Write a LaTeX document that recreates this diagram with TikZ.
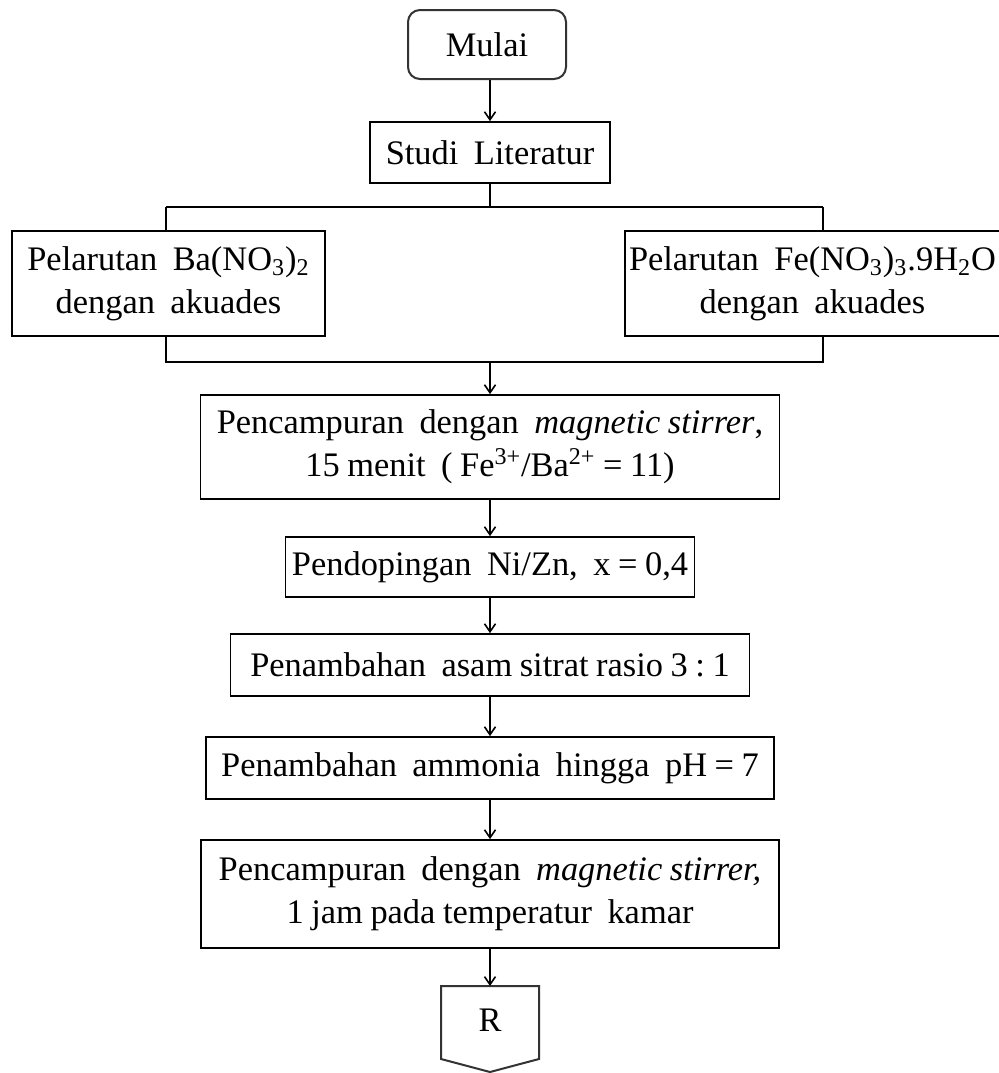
\documentclass[tikz,border=0pt]{standalone}
\usepackage{fontspec}
\setmainfont{Liberation Serif}[WordSpace=1.8]
\usetikzlibrary{arrows.meta}
% a plain, narrow word space
\newcommand{\nsp}{\hspace{0.22em}}

\begin{document}
\begin{tikzpicture}[x=0.5pt, y=-0.5pt,
  every node/.style={font=\fontsize{17.2}{21.5}\selectfont, align=center, inner sep=0pt},
  procbox/.style={draw, line width=0.85pt},
  startbox/.style={draw=black!80, line width=1pt, rounded corners=6pt},
  link/.style={line width=0.85pt},
  arr/.style={line width=0.85pt, -{Straight Barb[length=4pt, width=5.5pt, line width=0.8pt]}}]

\useasboundingbox (0,0) rectangle (998,1073);

% start
\node[startbox, minimum width=79pt, minimum height=34.5pt] (mulai) at (487,44.5) {Mulai};

% literature study
\node[procbox, minimum width=120pt, minimum height=30.5pt] (lit) at (490,152.5) {Studi Literatur};

% the two dissolving steps
\node[procbox, minimum width=156.5pt, minimum height=52.5pt] (ba) at (168.5,283.5)
  {Pelarutan Ba(NO\textsubscript{3})\textsubscript{2}\\dengan akuades};
\node[procbox, minimum width=187.5pt, minimum height=52.5pt] (fe) at (812.5,283.5)
  {Pelarutan Fe(NO\textsubscript{3})\textsubscript{3}.9H\textsubscript{2}O\\dengan akuades};

% main sequence
\node[procbox, minimum width=289.5pt, minimum height=52pt] (mix1) at (490,447)
  {Pencampuran\ dengan \textit{magnetic\nsp stirrer},\\15\nsp menit\ (\nsp Fe\textsuperscript{3+}/Ba\textsuperscript{2+}\nsp=\nsp11)};
\node[procbox, minimum width=204.5pt, minimum height=30pt] (dop) at (490,567)
  {Pendopingan\ Ni/Zn,\ x\nsp=\nsp0,4};
\node[procbox, minimum width=259.5pt, minimum height=31pt] (asam) at (490,665)
  {Penambahan\ asam\nsp sitrat\nsp rasio\nsp 3\nsp:\nsp1};
\node[procbox, minimum width=284pt, minimum height=31pt] (amm) at (490,768)
  {Penambahan ammonia hingga pH\nsp=\nsp7};
\node[procbox, minimum width=289pt, minimum height=54pt] (mix2) at (490,894)
  {Pencampuran\ dengan \textit{magnetic\nsp stirrer,}\\1\nsp jam\nsp pada\nsp temperatur\ kamar};

% off-page connector
\coordinate (rtop) at (490,986);
\draw[line width=1pt, draw=black!80, line join=miter]
  (441,986) -- (539,986) -- (539,1059) -- (490,1072) -- (441,1059) -- cycle;
\node (r) at (490,1020) {R};

% branching and merging lines
\coordinate (bl) at (166,207);
\coordinate (br) at (823,207);
\coordinate (ml) at (166,362);
\coordinate (mr) at (823,362);

\draw[arr] (mulai.south -| lit.north) -- (lit.north);
\draw[link] (lit.south) -- (lit.south |- bl);
\draw[link] (bl) -- (br);
\draw[link] (bl) -- (bl |- ba.north);
\draw[link] (br) -- (br |- fe.north);
\draw[link] (ml |- ba.south) -- (ml) -- (mr) -- (mr |- fe.south);
\draw[arr] (ml -| mix1.north) -- (mix1.north);
\draw[arr] (mix1.south) -- (dop.north);
\draw[arr] (dop.south) -- (asam.north);
\draw[arr] (asam.south) -- (amm.north);
\draw[arr] (amm.south) -- (mix2.north);
\draw[arr] (mix2.south) -- (rtop);
\end{tikzpicture}
\end{document}
